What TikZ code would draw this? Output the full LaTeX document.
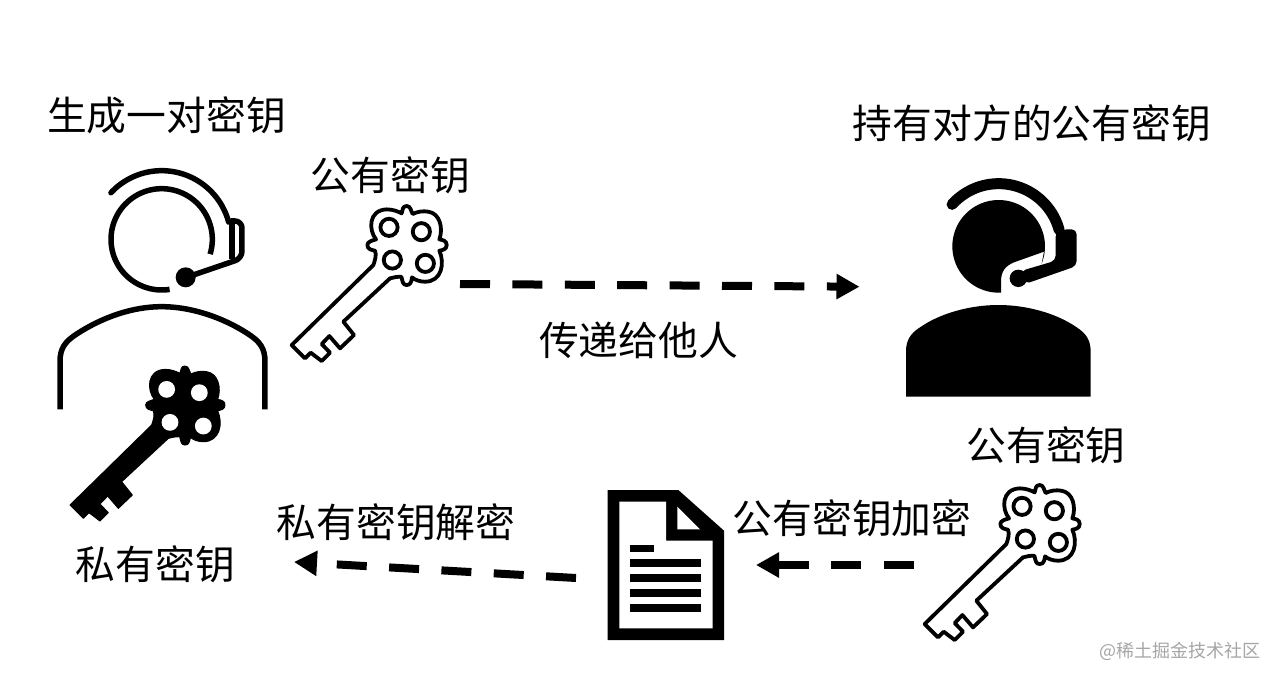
\documentclass[tikz,border=0pt]{standalone}
\usepackage{fontspec}
\setmainfont{Noto Sans CJK SC}
\usetikzlibrary{arrows.meta}
\tikzset{
  label text/.style={font=\fontsize{39.8pt}{44pt}\selectfont,text=black,inner sep=0pt,anchor=center},
  dasharrow/.style={line width=8pt,dash pattern=on 30pt off 22.4pt,-{Triangle[length=23pt,width=24pt]}},
  zoomed/.style={x=0.33333pt,y=-0.33333pt},
  outline/.style={draw=black,line width=3.8pt,line join=round,fill=white},
  solidkey/.style={fill=black,draw=black,line width=1pt,line join=round},
  thick line/.style={draw=black,line width=5.5pt}
}
\newcommand{\keyshape}{%
  (-100,55) .. controls (-95,40) and (-90,25) .. (-95,12)
  .. controls (-105,10) and (-118,8) .. (-118,-5)
  .. controls (-118,-15) and (-105,-18) .. (-92,-22)
  .. controls (-115,-50) and (-115,-110) .. (-60,-112)
  .. controls (-40,-112) and (-25,-105) .. (-15,-100)
  .. controls (-12,-112) and (-12,-122) .. (0,-122)
  .. controls (12,-122) and (12,-108) .. (18,-98)
  .. controls (30,-105) and (50,-108) .. (65,-105)
  .. controls (100,-100) and (110,-55) .. (98,-22)
  .. controls (108,-20) and (120,-18) .. (120,-5)
  .. controls (120,8) and (108,10) .. (98,12)
  .. controls (115,50) and (105,105) .. (55,105)
  .. controls (40,105) and (25,100) .. (16,92)
  .. controls (14,105) and (12,115) .. (0,115)
  .. controls (-12,115) and (-12,105) .. (-16,90)
  .. controls (-30,90) and (-40,92) .. (-50,95)
  -- (-190,225) -- (-158,265) -- (-200,305) -- (-232,268) -- (-255,292) -- (-230,318) -- (-255,343) -- (-288,318) -- (-305,335) -- (-345,295) -- cycle}
\newcommand{\outlinekey}[2]{%
  \begin{scope}[shift={(#1)},zoomed]
    \path[outline] \keyshape;
    \coordinate (#2) at (0,0);
    \foreach \p in {(-53,-58),(44,-45),(-43,40),(56,50)}
      \draw[draw=black,line width=3.8pt] \p circle[radius=8.6pt];
  \end{scope}}
\begin{document}
\begin{tikzpicture}[x=1pt,y=-1pt]
\useasboundingbox (0,0) rectangle (1280,682);
\fill[white] (0,0) rectangle (1280,682);

% left person (outline)
\begin{scope}[shift={(40,160)},zoomed]
  \draw[thick line] plot[domain=81:377,samples=80] ({365+152*cos(\x)},{238+152*sin(\x)});
  \draw[thick line,line cap=round] plot[domain=223:345,samples=60] ({365+208*cos(\x)},{240+208*sin(\x)});
  \draw[thick line,line join=round,rounded corners=7pt] (572,183) -- (606,183) -- (606,295) -- (445,350);
  \draw[thick line] (576,183) -- (576,298);
  \fill[black] (437,352) circle[radius=10pt];
  \draw[thick line] (60,748) -- (60,605) .. controls (60,565) and (75,545) .. (110,522) .. controls (190,470) and (280,440) .. (365,440) .. controls (450,440) and (545,470) .. (625,522) .. controls (660,545) and (675,565) .. (675,605) -- (675,748);
\end{scope}

% private key (solid)
\begin{scope}[shift={(185,406.7)},zoomed]
  \coordinate (privkey) at (0,0);
  \path[solidkey] \keyshape;
  \foreach \p in {(-55,-52),(43,-42),(-45,47),(55,58)}
    \fill[white] \p circle[radius=8.4pt];
\end{scope}

% public keys
\outlinekey{406.7,246.7}{pubkeyA}
\outlinekey{1039.7,525.7}{pubkeyB}

% right person (solid)
\begin{scope}[shift={(890,170)},zoomed]
  \fill[black] plot[domain=87:382,samples=80] ({326+139*cos(\x)},{229+139*sin(\x)}) -- (462,245) -- (372,277) .. controls (345,288) and (333,305) .. (333,335) -- (333,368) -- cycle;
  \draw[black,line width=11pt,line cap=round] plot[domain=222:345,samples=60] ({326+188*cos(\x)},{229+188*sin(\x)});
  \fill[black,rounded corners=5pt] (522,178) -- (560,178) -- (560,288) -- (405,342) -- (392,303) -- (497,272) -- (497,185) -- cycle;
  \fill[black] (385,325) circle[radius=8.7pt];
  \fill[black] (48,680) -- (48,545) .. controls (48,510) and (62,490) .. (90,472) .. controls (150,430) and (240,405) .. (325,405) .. controls (410,405) and (500,430) .. (560,472) .. controls (588,490) and (602,510) .. (602,545) -- (602,680) -- cycle;
\end{scope}

% document
\begin{scope}[shift={(590,480)},zoomed]
  \coordinate (doc) at (228,255);
  \fill[black] (53,30) -- (265,30) -- (402,152) -- (402,480) -- (53,480) -- cycle;
  \fill[white] (88,65) -- (228,65) -- (228,182) -- (368,182) -- (368,445) -- (88,445) -- cycle;
  \fill[white] (262,80) -- (262,148) -- (330,148) -- cycle;
  \fill[black] (121,194) rectangle (193,215);
  \foreach \y in {238,283,328,373}
    \fill[black] (121,\y) rectangle (334,\y+22);
\end{scope}

% connector ends
\coordinate (a1) at (460,284);
\coordinate (a2) at (859.5,286.7);
\coordinate (b1) at (913.5,565);
\coordinate (b2) at (756,565);
\coordinate (c1) at (576,578);
\coordinate (c2) at (294,562);
\draw[dasharrow] (a1) -- (a2);
\draw[dasharrow] (b1) -- (b2);
\draw[dasharrow] (c1) -- (c2);

% labels
\node[label text] (t1) at (166.5,115) {生成一对密钥};
\node[label text] (t2) at (1032,123) {持有对方的公有密钥};
\node[label text] (t3) at (390.5,175) {公有密钥};
\node[label text] (t4) at (638.5,340) {传递给他人};
\node[label text] (t5) at (1046,445) {公有密钥};
\node[label text] (t6) at (852,518) {公有密钥加密};
\node[label text] (t7) at (396,522) {私有密钥解密};
\node[label text] (t8) at (155.5,564) {私有密钥};
\node[font=\fontsize{18pt}{20pt}\selectfont,text=black!35,inner sep=0pt] (wm) at (1180,651) {@稀土掘金技术社区};
\end{tikzpicture}
\end{document}
